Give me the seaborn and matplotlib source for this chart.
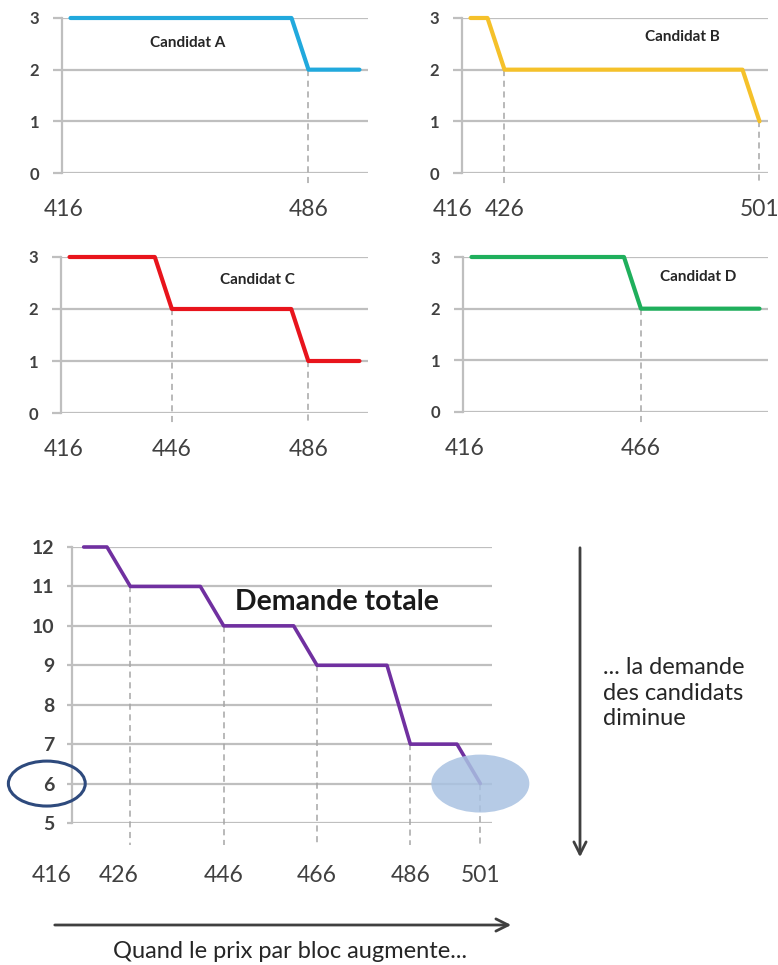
import matplotlib
matplotlib.use("Agg")
import matplotlib.pyplot as plt
import seaborn as sns
from matplotlib.patches import Ellipse
from matplotlib.transforms import ScaledTranslation

# Prix par bloc (catégories tous les 5) et demande de chaque candidat
prices = [416, 421, 426, 431, 436, 441, 446, 451, 456, 461, 466, 471, 476, 481, 486, 491, 496, 501]
demand_a = [3, 3, 3, 3, 3, 3, 3, 3, 3, 3, 3, 3, 3, 3, 2, 2, 2, 2]
demand_b = [3, 3, 2, 2, 2, 2, 2, 2, 2, 2, 2, 2, 2, 2, 2, 2, 2, 1]
demand_c = [3, 3, 3, 3, 3, 3, 2, 2, 2, 2, 2, 2, 2, 2, 1, 1, 1, 1]
demand_d = [3, 3, 3, 3, 3, 3, 3, 3, 3, 3, 2, 2, 2, 2, 2, 2, 2, 2]
demand_total = [12, 12, 11, 11, 11, 11, 10, 10, 10, 10, 9, 9, 9, 9, 7, 7, 7, 6]

ticks_a = [416, 486]
ticks_b = [416, 426, 501]
ticks_c = [416, 446, 486]
ticks_d = [416, 466]
ticks_total = [416, 426, 446, 466, 486, 501]

# prix où la demande vient de baisser (lignes pointillées)
drops_a = [486]
drops_b = [426, 501]
drops_c = [446, 486]
drops_d = [466]
drops_total = [426, 446, 466, 486, 501]

sns.set_theme(style="white")
plt.rcParams["font.family"] = ["Lato", "DejaVu Sans"]

W, H = 778, 965
fig = plt.figure(figsize=(W / 100, H / 100), dpi=100)

GRID = "#BFBFBF"
TXT = "#404040"


def add_ax(left, top, right, bottom):
    return fig.add_axes([left / W, 1 - bottom / H, (right - left) / W, (bottom - top) / H])


def style_axis(ax, ylim, yticks, ytick_fs, ypad, xtick_fs, xpad, ticklen):
    ax.set_xlim(413.5, 503.5)
    ax.set_ylim(*ylim)
    ax.set_yticks(yticks)
    ax.grid(axis="y", color=GRID, lw=1.6)
    ax.grid(axis="x", visible=False)
    for s in ["top", "right", "bottom"]:
        ax.spines[s].set_visible(False)
    ax.spines["left"].set_color(GRID)
    ax.spines["left"].set_linewidth(1.6)
    ax.tick_params(axis="y", length=ticklen, width=1.6, color=GRID, direction="out",
                   labelsize=ytick_fs, labelcolor=TXT, pad=ypad, left=True)
    ax.tick_params(axis="x", length=0, labelsize=xtick_fs, labelcolor=TXT, pad=xpad)
    ax.set_xlabel("")
    ax.set_ylabel("")
    for lbl in ax.get_yticklabels():
        lbl.set_fontweight("bold")


def shift_label(ax, text, dx_px):
    for lbl in ax.get_xticklabels():
        if lbl.get_text() == text:
            lbl.set_transform(lbl.get_transform() + ScaledTranslation(dx_px / 100, 0, fig.dpi_scale_trans))


def candidate(rect, vals, color, ticks, drops, title, title_xy, shift416):
    ax = add_ax(*rect)
    sns.lineplot(x=prices, y=vals, ax=ax, color=color, lw=3, clip_on=False, zorder=3)
    style_axis(ax, (0, 3), [0, 1, 2, 3], 12, 10, 16.5, 19, 6.5)
    ax.set_xticks(ticks)
    ax.set_xticklabels([str(t) for t in ticks])
    shift_label(ax, "416", shift416)
    for p in drops:
        yv = vals[prices.index(p)]
        ax.plot([p, p], [yv, -0.23], color="#A6A6A6", lw=1.1, ls=(0, (4, 3)),
                clip_on=False, zorder=2)
    ax.text(title_xy[0], title_xy[1], title, transform=ax.transAxes, ha="center",
            va="center", fontsize=11, fontweight="bold", color="#262626")
    return ax


candidate((62, 18, 368, 173), demand_a, "#21A9DD", ticks_a, drops_a, "Candidat A", (0.41, 0.84), -6.5)
candidate((462, 18, 768, 173), demand_b, "#F5C12A", ticks_b, drops_b, "Candidat B", (0.72, 0.88), -17.5)
candidate((61, 257, 368, 413), demand_c, "#E8141C", ticks_c, drops_c, "Candidat C", (0.64, 0.85), -5.5)
candidate((463, 257, 768, 412), demand_d, "#1FAF5C", ticks_d, drops_d, "Candidat D", (0.77, 0.87), -6.5)

# Demande totale
ax = add_ax(72, 547, 492, 823)
sns.lineplot(x=prices, y=demand_total, ax=ax, color="#7030A0", lw=2.6, clip_on=False, zorder=3)
style_axis(ax, (5, 12), list(range(5, 13)), 14, 9, 16.5, 30, 3.5)
ax.set_xticks(ticks_total)
ax.set_xticklabels([str(t) for t in ticks_total])
shift_label(ax, "416", -32)
shift_label(ax, "426", -12)
for p in drops_total:
    yv = demand_total[prices.index(p)]
    ax.plot([p, p], [yv, 4.44], color="#A6A6A6", lw=1.1, ls=(0, (4, 3)),
            clip_on=False, zorder=2)
ax.text(0.63, 0.80, "Demande totale", transform=ax.transAxes, ha="center", va="center",
        fontsize=20.5, fontweight="bold", color="#1a1a1a")

# surbrillance du dernier point
ax.add_patch(Ellipse((prices[-1], demand_total[-1]), 21, 1.47, facecolor="#A9C2E2",
                     edgecolor="none", alpha=0.85, clip_on=False, zorder=4))
# entourage de la graduation 6
ax.add_patch(Ellipse((-0.06, 6), 0.183, 1.14, transform=ax.get_yaxis_transform(),
                     facecolor="none", edgecolor="#2E4A7D", lw=2.2, clip_on=False, zorder=5))

# flèches et commentaires
fig.add_artist(matplotlib.patches.FancyArrowPatch(
    (580 / W, 1 - 545 / H), (580 / W, 1 - 860 / H), transform=fig.transFigure,
    arrowstyle="->", mutation_scale=22, lw=2, color="#404040"))
fig.text(603 / W, 1 - 693 / H, "... la demande\ndes candidats\ndiminue", ha="left", va="center",
         fontsize=17, color="#262626", linespacing=1.25)
fig.add_artist(matplotlib.patches.FancyArrowPatch(
    (52 / W, 1 - 925 / H), (514 / W, 1 - 925 / H), transform=fig.transFigure,
    arrowstyle="->", mutation_scale=22, lw=2, color="#404040"))
fig.text(290 / W, 1 - 952 / H, "Quand le prix par bloc augmente...", ha="center", va="center",
         fontsize=17, color="#262626")

fig.savefig("out.png", dpi=100)
